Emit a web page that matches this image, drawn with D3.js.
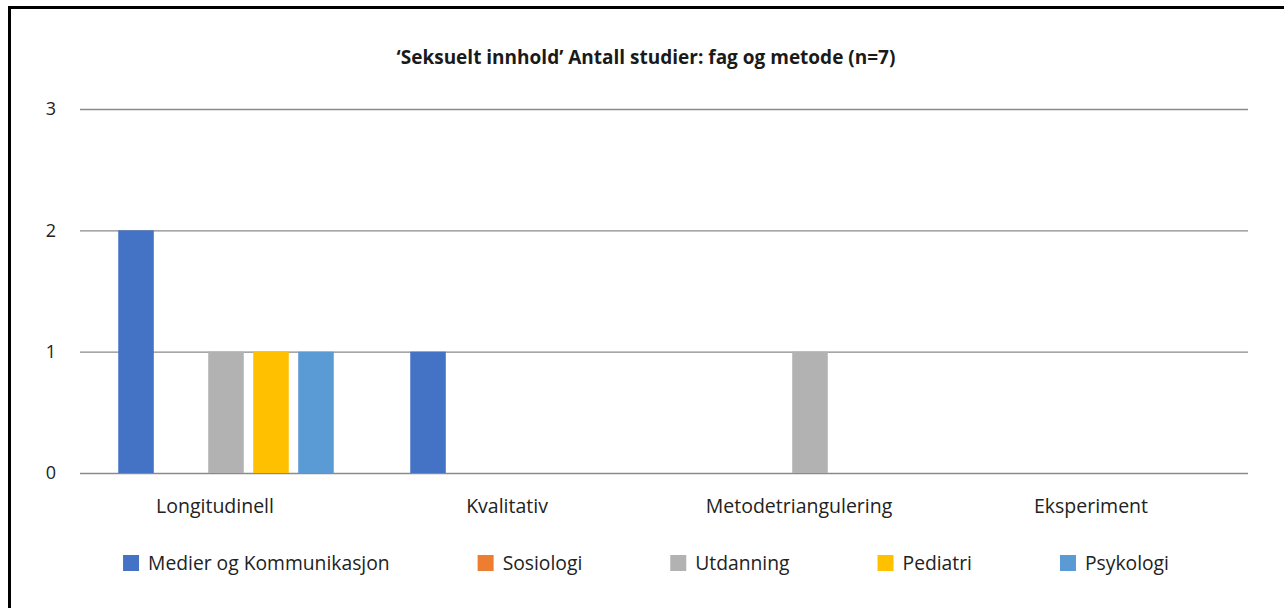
<!DOCTYPE html>
<html>
<head>
<meta charset="utf-8">
<script src="https://cdn.jsdelivr.net/npm/d3@7"></script>
<style>
  body { margin: 0; background: #fff; }
  svg { display: block; font-family: "Open Sans", sans-serif; }
</style>
</head>
<body>
<div id="chart"></div>
<script>
const title = "\u2018Seksuelt innhold\u2019 Antall studier: fag og metode (n=7)"
const categories = ["Longitudinell", "Kvalitativ", "Metodetriangulering", "Eksperiment"]
const series = ["Medier og Kommunikasjon", "Sosiologi", "Utdanning", "Pediatri", "Psykologi"]
const medier = [2, 1, 0, 0]
const sosiologi = [0, 0, 0, 0]
const utdanning = [1, 0, 1, 0]
const pediatri = [1, 0, 0, 0]
const psykologi = [1, 0, 0, 0]
const yTicks = [0, 1, 2, 3]
const colors = ["#4472C4", "#ED7D31", "#B2B2B2", "#FFC000", "#5B9BD5"]

const values = [medier, sosiologi, utdanning, pediatri, psykologi]

const width = 1284
const height = 608
const margin = { top: 109, right: 36, bottom: 135, left: 80 }
const centerX = 646

const svg = d3.select("#chart")
  .append("svg")
  .attr("width", width)
  .attr("height", height)

// outer frame (cut off at the right and bottom)
svg.append("rect")
  .attr("x", 9.5)
  .attr("y", 7.5)
  .attr("width", 1300)
  .attr("height", 640)
  .attr("fill", "none")
  .attr("stroke", "#000")
  .attr("stroke-width", 3)

svg.append("text")
  .attr("x", centerX)
  .attr("y", 64)
  .attr("text-anchor", "middle")
  .style("font-size", "19px")
  .style("font-weight", "bold")
  .style("fill", "#1a1a1a")
  .text(title)

const x0 = d3.scaleBand()
  .domain(categories)
  .range([margin.left, width - margin.right])

const x1 = d3.scaleBand()
  .domain(series)
  .range([0, x0.bandwidth()])
  .paddingInner(0.21)
  .paddingOuter(0.85)

const y = d3.scaleLinear()
  .domain([0, 3])
  .range([height - margin.bottom, margin.top])

// gridlines + y labels
const yAxis = svg.append("g")
  .attr("transform", `translate(${margin.left},0)`)
  .call(d3.axisLeft(y).tickValues(yTicks).tickFormat(d3.format("d"))
    .tickSize(-(width - margin.left - margin.right)).tickPadding(24))
yAxis.select(".domain").remove()
yAxis.selectAll(".tick line").attr("stroke", "#8a8a8a").attr("stroke-width", 1.3)
yAxis.selectAll(".tick text")
  .style("font-size", "18px")
  .style("font-family", "Open Sans, sans-serif")
  .attr("fill", "#222")

// bars
const groups = svg.append("g")
  .selectAll("g")
  .data(series)
  .join("g")
  .attr("fill", (d, i) => colors[i])

groups.selectAll("rect")
  .data((s, i) => categories.map((c, j) => ({ c, s, v: values[i][j] })))
  .join("rect")
  .attr("x", d => x0(d.c) + x1(d.s))
  .attr("y", d => y(d.v))
  .attr("width", x1.bandwidth())
  .attr("height", d => y(0) - y(d.v))

// category labels
const xAxis = svg.append("g")
  .attr("transform", `translate(0,${y(0)})`)
  .call(d3.axisBottom(x0).tickSize(0).tickPadding(26))
xAxis.select(".domain").remove()
xAxis.selectAll(".tick text")
  .style("font-size", "19.5px")
  .style("font-family", "Open Sans, sans-serif")
  .attr("fill", "#222")
  .attr("dx", -11)

// legend
const legend = svg.append("g")
const items = legend.selectAll("g")
  .data(series)
  .join("g")
items.append("rect")
  .attr("y", -8)
  .attr("width", 16)
  .attr("height", 16)
  .attr("fill", (d, i) => colors[i])
items.append("text")
  .attr("x", 25)
  .attr("dy", "0.35em")
  .style("font-size", "19.3px")
  .attr("fill", "#222")
  .text(d => d)

let pos = 0
items.each(function () {
  const w = d3.select(this).select("text").node().getComputedTextLength()
  d3.select(this).attr("transform", `translate(${pos},0)`)
  pos += 25 + w + 88
})
const legendWidth = pos - 88
legend.attr("transform", `translate(${centerX - legendWidth / 2},563)`)
</script>
</body>
</html>
